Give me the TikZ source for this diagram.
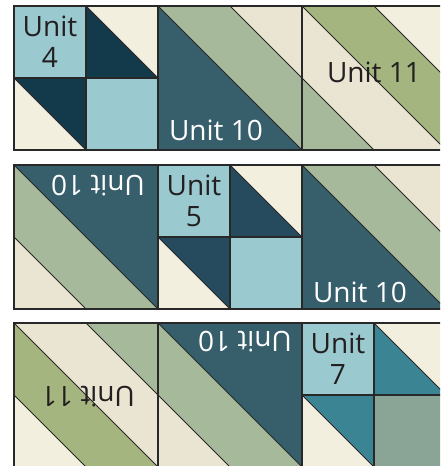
\documentclass[tikz,border=0pt]{standalone}
\usepackage{fontspec}
\setmainfont{Open Sans}
\usepackage{xcolor}

\begin{document}
\begin{tikzpicture}[x=1pt, y=1pt, every node/.style={font=\fontsize{28}{31}\selectfont}]
	% Define colors
	\definecolor{paleblue}{RGB}{155, 201, 208}
	\definecolor{navy}{RGB}{19, 58, 74}
	\definecolor{inkblue}{RGB}{38, 74, 94}
	\definecolor{slate}{RGB}{54, 94, 107}
	\definecolor{teal}{RGB}{59, 132, 148}
	\definecolor{greygreen}{RGB}{138, 164, 150}
	\definecolor{cream}{RGB}{243, 239, 222}
	\definecolor{beige}{RGB}{234, 228, 210}
	\definecolor{sage}{RGB}{166, 185, 155}
	\definecolor{olive}{RGB}{165, 181, 127}
	\definecolor{seam}{RGB}{40, 40, 40}
	\definecolor{ink}{RGB}{35, 31, 32}

	% Styles
	\tikzstyle{patch_edge} = [draw=seam, line width=0.8pt]
	\tikzstyle{block_edge} = [draw=seam, line width=1.5pt]
	\tikzstyle{dark_label} = [text=ink, inner sep=0pt, align=center]
	\tikzstyle{light_label} = [text=white, inner sep=0pt]

	% Column X positions (left edges)
	\def\colone{14}
	\def\coltwo{158}
	\def\colthree{302}

	% Row Y positions (bottom edges)
	\def\rowone{316}
	\def\rowtwo{157}
	\def\rowthree{-1}

	\useasboundingbox (0,0) rectangle (440,466);
	\clip (0,0) rectangle (440,466);
	\fill[white] (0,0) rectangle (440,466);

	% Row 1, Unit 4
	\begin{scope}[shift={(\colone,\rowone)}]
		\fill[paleblue] (0,72) rectangle (72,144);
		\fill[navy] (72,144) -- (72,72) -- (144,72) -- cycle;
		\fill[cream] (72,144) -- (144,144) -- (144,72) -- cycle;
		\fill[navy] (0,72) -- (72,72) -- (72,0) -- cycle;
		\fill[cream] (0,72) -- (0,0) -- (72,0) -- cycle;
		\fill[paleblue] (72,0) rectangle (144,72);
		\draw[patch_edge] (72,144) -- (144,72) (0,72) -- (72,0);
		\draw[block_edge] (0,0) rectangle (144,144) (72,0) -- (72,144) (0,72) -- (144,72);
	\end{scope}

	% Row 1, Unit 10
	\begin{scope}[shift={(\coltwo,\rowone)}]
		\fill[slate] (0,144) -- (0,0) -- (144,0) -- cycle;
		\fill[sage] (0,144) -- (72,144) -- (144,72) -- (144,0) -- cycle;
		\fill[beige] (72,144) -- (144,144) -- (144,72) -- cycle;
		\draw[patch_edge] (0,144) -- (144,0) (72,144) -- (144,72);
		\draw[block_edge] (0,0) rectangle (144,144);
	\end{scope}

	% Row 1, Unit 11
	\begin{scope}[shift={(\colthree,\rowone)}]
		\fill[cream] (72,144) -- (144,144) -- (144,72) -- cycle;
		\fill[olive] (0,144) -- (72,144) -- (144,72) -- (144,0) -- cycle;
		\fill[beige] (0,144) -- (144,0) -- (72,0) -- (0,72) -- cycle;
		\fill[sage] (0,72) -- (72,0) -- (0,0) -- cycle;
		\draw[patch_edge] (0,144) -- (144,0) (72,144) -- (144,72) (0,72) -- (72,0);
		\draw[block_edge] (0,0) rectangle (144,144);
	\end{scope}

	% Row 2, Unit 10 (turned)
	\begin{scope}[shift={(\colone+72,\rowtwo+72)}, rotate=180, shift={(-72,-72)}]
		\fill[slate] (0,144) -- (0,0) -- (144,0) -- cycle;
		\fill[sage] (0,144) -- (72,144) -- (144,72) -- (144,0) -- cycle;
		\fill[beige] (72,144) -- (144,144) -- (144,72) -- cycle;
		\draw[patch_edge] (0,144) -- (144,0) (72,144) -- (144,72);
		\draw[block_edge] (0,0) rectangle (144,144);
	\end{scope}

	% Row 2, Unit 5
	\begin{scope}[shift={(\coltwo,\rowtwo)}]
		\fill[paleblue] (0,72) rectangle (72,144);
		\fill[inkblue] (72,144) -- (72,72) -- (144,72) -- cycle;
		\fill[cream] (72,144) -- (144,144) -- (144,72) -- cycle;
		\fill[inkblue] (0,72) -- (72,72) -- (72,0) -- cycle;
		\fill[cream] (0,72) -- (0,0) -- (72,0) -- cycle;
		\fill[paleblue] (72,0) rectangle (144,72);
		\draw[patch_edge] (72,144) -- (144,72) (0,72) -- (72,0);
		\draw[block_edge] (0,0) rectangle (144,144) (72,0) -- (72,144) (0,72) -- (144,72);
	\end{scope}

	% Row 2, Unit 10
	\begin{scope}[shift={(\colthree,\rowtwo)}]
		\fill[slate] (0,144) -- (0,0) -- (144,0) -- cycle;
		\fill[sage] (0,144) -- (72,144) -- (144,72) -- (144,0) -- cycle;
		\fill[beige] (72,144) -- (144,144) -- (144,72) -- cycle;
		\draw[patch_edge] (0,144) -- (144,0) (72,144) -- (144,72);
		\draw[block_edge] (0,0) rectangle (144,144);
	\end{scope}

	% Row 3, Unit 11 (turned)
	\begin{scope}[shift={(\colone+72,\rowthree+72)}, rotate=180, shift={(-72,-72)}]
		\fill[cream] (72,144) -- (144,144) -- (144,72) -- cycle;
		\fill[olive] (0,144) -- (72,144) -- (144,72) -- (144,0) -- cycle;
		\fill[beige] (0,144) -- (144,0) -- (72,0) -- (0,72) -- cycle;
		\fill[sage] (0,72) -- (72,0) -- (0,0) -- cycle;
		\draw[patch_edge] (0,144) -- (144,0) (72,144) -- (144,72) (0,72) -- (72,0);
		\draw[block_edge] (0,0) rectangle (144,144);
	\end{scope}

	% Row 3, Unit 10 (turned)
	\begin{scope}[shift={(\coltwo+72,\rowthree+72)}, rotate=180, shift={(-72,-72)}]
		\fill[slate] (0,144) -- (0,0) -- (144,0) -- cycle;
		\fill[sage] (0,144) -- (72,144) -- (144,72) -- (144,0) -- cycle;
		\fill[beige] (72,144) -- (144,144) -- (144,72) -- cycle;
		\draw[patch_edge] (0,144) -- (144,0) (72,144) -- (144,72);
		\draw[block_edge] (0,0) rectangle (144,144);
	\end{scope}

	% Row 3, Unit 7
	\begin{scope}[shift={(\colthree,\rowthree)}]
		\fill[paleblue] (0,72) rectangle (72,144);
		\fill[teal] (72,144) -- (72,72) -- (144,72) -- cycle;
		\fill[cream] (72,144) -- (144,144) -- (144,72) -- cycle;
		\fill[teal] (0,72) -- (72,72) -- (72,0) -- cycle;
		\fill[cream] (0,72) -- (0,0) -- (72,0) -- cycle;
		\fill[greygreen] (72,0) rectangle (144,72);
		\draw[patch_edge] (72,144) -- (144,72) (0,72) -- (72,0);
		\draw[block_edge] (0,0) rectangle (144,144) (72,0) -- (72,144) (0,72) -- (144,72);
	\end{scope}

	% Labels
	\node[dark_label] (unitfour) at (\colone+36, \rowone+108) {Unit\\4};
	\node[light_label] (unittenA) at (\coltwo+58, \rowone+20) {Unit 10};
	\node[dark_label] (unitelevenA) at (\colthree+72, \rowone+78) {Unit 11};
	\node[light_label, rotate=180] (unittenB) at (\colone+84, \rowtwo+123) {Unit 10};
	\node[dark_label] (unitfive) at (\coltwo+36, \rowtwo+108) {Unit\\5};
	\node[light_label] (unittenC) at (\colthree+58, \rowtwo+17) {Unit 10};
	\node[dark_label, rotate=180] (unitelevenB) at (\colone+74, 69) {Unit 11};
	\node[light_label, rotate=180] (unittenD) at (\coltwo+87, 124) {Unit 10};
	\node[dark_label] (unitseven) at (\colthree+36, 107) {Unit\\7};

\end{tikzpicture}
\end{document}
